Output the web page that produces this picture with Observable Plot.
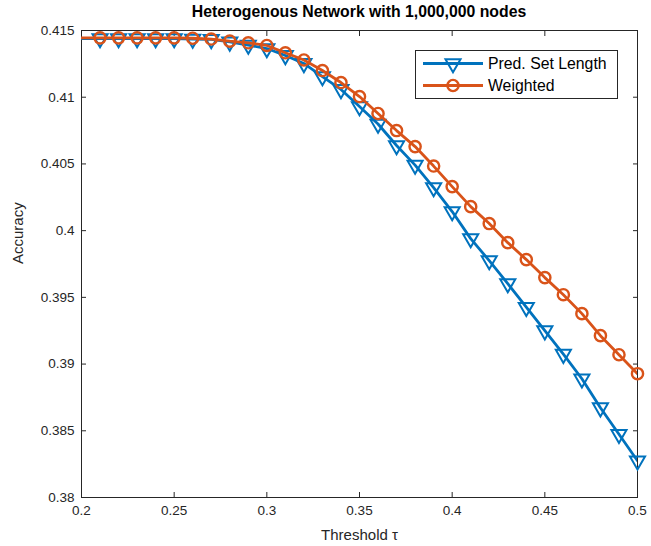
<!DOCTYPE html>
<html><head><meta charset="utf-8">
<script src="https://cdn.jsdelivr.net/npm/d3@7"></script>
<script src="https://cdn.jsdelivr.net/npm/@observablehq/plot@0.6"></script>
<style>
body{margin:0;background:#fff;font-family:"Liberation Sans",Arial,sans-serif;}
#wrap{position:relative;width:651px;}
#title{margin-left:81px;width:556px;height:22px;line-height:24px;text-align:center;font-weight:bold;font-size:15.8px;color:#000;white-space:nowrap;}
#legend{position:absolute;left:415px;top:50px;}
</style></head><body>
<div id="wrap">
<div id="title">Heterogenous Network with 1,000,000 nodes</div>
<div id="chart"></div>
<div id="legend"></div>
</div>
<script>
// x values (threshold τ); the first point (0.20) lies on the axis edge, where markers are clipped
const thresholds = [0.20,0.21,0.22,0.23,0.24,0.25,0.26,0.27,0.28,0.29,0.30,0.31,0.32,0.33,0.34,0.35,0.36,0.37,0.38,0.39,0.40,0.41,0.42,0.43,0.44,0.45,0.46,0.47,0.48,0.49,0.50];
const predSetLength = [0.4144,0.4144,0.4144,0.4144,0.4144,0.4144,0.41436,0.41433,0.41414,0.41391,0.41365,0.41313,0.41253,0.41155,0.41058,0.4093,0.40799,0.40638,0.40491,0.40323,0.40143,0.3994,0.39775,0.39603,0.39426,0.3925,0.39074,0.3889,0.38673,0.38474,0.38275];
const weighted = [0.41445,0.41445,0.41445,0.41445,0.41445,0.41445,0.41442,0.41436,0.4142,0.41408,0.41388,0.41333,0.41279,0.4120,0.4111,0.41005,0.40878,0.4075,0.4063,0.40484,0.4033,0.4018,0.40053,0.3991,0.39783,0.39648,0.3952,0.39378,0.39213,0.3907,0.38928];
const seriesNames = ["Pred. Set Length","Weighted"];
const seriesColors = ["#0072BD","#D95319"];
const xTicks = [0.2,0.25,0.3,0.35,0.4,0.45,0.5];
const yTicks = [0.38,0.385,0.39,0.395,0.4,0.405,0.41,0.415];
const xLabel = "Threshold τ";
const yLabel = "Accuracy";

const fmt = d => String(+d.toFixed(3));
const xDomain = [0.2, 0.5];
const blue = thresholds.map((x,i)=>({x, y: predSetLength[i]}));
const orange = thresholds.map((x,i)=>({x, y: weighted[i]}));
const inside = d => d.x > xDomain[0];
const axisColor = "#262626";

const chart = Plot.plot({
  width: 651,
  height: 524,
  marginLeft: 81,
  marginRight: 14,
  marginTop: 8,
  marginBottom: 49,
  style: {fontFamily: '"Liberation Sans", Arial, sans-serif', fontSize: "13.5px", color: axisColor, background: "#fff"},
  x: {domain: xDomain},
  y: {domain: [0.38, 0.415]},
  marks: [
    Plot.axisX({ticks: xTicks, tickFormat: fmt, tickSize: -5, tickPadding: 13, label: null, stroke: axisColor, fill: axisColor}),
    Plot.axisX({anchor: "top", ticks: xTicks, tickFormat: () => "", tickSize: -5, label: null, stroke: axisColor}),
    Plot.axisY({ticks: yTicks, tickFormat: fmt, tickSize: -5, tickPadding: 12, label: null, stroke: axisColor, fill: axisColor}),
    Plot.axisY({anchor: "right", ticks: yTicks, tickFormat: () => "", tickSize: -5, label: null, stroke: axisColor}),
    Plot.frame({stroke: axisColor, strokeWidth: 1}),
    Plot.text([xLabel], {frameAnchor: "bottom", dy: 42, fill: axisColor, fontSize: 15}),
    Plot.text([yLabel], {frameAnchor: "left", dx: -63, rotate: -90, fill: axisColor, fontSize: 15}),
    Plot.line(blue, {x: "x", y: "y", stroke: seriesColors[0], strokeWidth: 2.8, clip: true}),
    Plot.dot(blue.filter(inside), {x: "x", y: "y", symbol: "triangle", rotate: 180, r: 5.6, stroke: seriesColors[0], strokeWidth: 2, fill: "none"}),
    Plot.line(orange, {x: "x", y: "y", stroke: seriesColors[1], strokeWidth: 2.8, clip: true}),
    Plot.dot(orange.filter(inside), {x: "x", y: "y", symbol: "circle", r: 5.6, stroke: seriesColors[1], strokeWidth: 2.4, fill: "none"})
  ]
});
document.getElementById("chart").appendChild(chart);

// legend (inside the axes, MATLAB-style)
const lw = 203, lh = 49;
const lg = d3.select("#legend").append("svg").attr("width", lw).attr("height", lh);
lg.append("rect").attr("x",0.5).attr("y",0.5).attr("width",lw-1).attr("height",lh-1).attr("fill","#fff").attr("stroke",axisColor).attr("stroke-width",1);
seriesNames.forEach((name,i)=>{
  const cy = 13.5 + i*22;
  const g = lg.append("g");
  g.append("line").attr("x1",8).attr("x2",68).attr("y1",cy).attr("y2",cy).attr("stroke",seriesColors[i]).attr("stroke-width",2.8);
  if (i===0) {
    g.append("path").attr("d", d3.symbol(d3.symbolTriangle, Math.PI*5.6*5.6)()).attr("transform",`translate(38,${cy}) rotate(180)`).attr("fill","none").attr("stroke",seriesColors[i]).attr("stroke-width",2);
  } else {
    g.append("circle").attr("cx",38).attr("cy",cy).attr("r",5.6).attr("fill","none").attr("stroke",seriesColors[i]).attr("stroke-width",2.4);
  }
  g.append("text").attr("x",73).attr("y",cy).attr("dy","0.35em").attr("font-size","15.8px").attr("fill","#000").attr("font-family",'"Liberation Sans", Arial, sans-serif').text(name);
});
</script>
</body></html>
